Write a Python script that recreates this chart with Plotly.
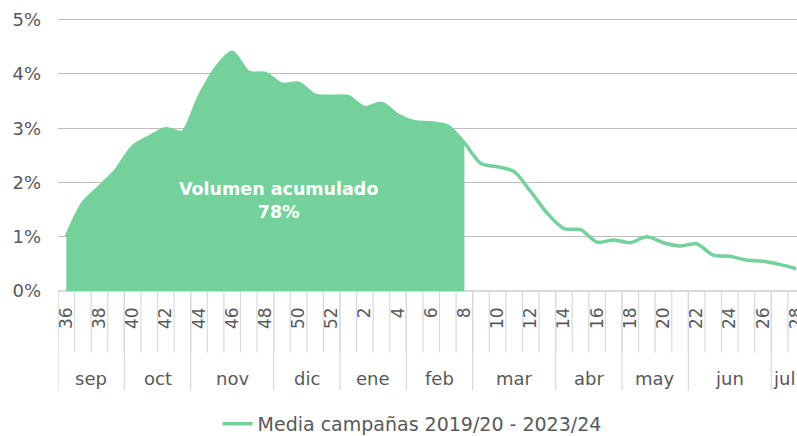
import plotly.graph_objects as go

weeks = list(range(36, 53)) + list(range(1, 29))
values = [1.00, 1.62, 1.92, 2.23, 2.66, 2.84, 2.99, 2.93, 3.58, 4.10, 4.40, 4.03, 4.01,
          3.81, 3.83, 3.61, 3.59, 3.58, 3.38, 3.46, 3.24, 3.12, 3.10, 3.04, 2.73,
          2.35, 2.29, 2.20, 1.83, 1.43, 1.15, 1.13, 0.90, 0.94, 0.89, 1.00, 0.89,
          0.83, 0.87, 0.66, 0.64, 0.57, 0.55, 0.49, 0.41]
months = ["sep", "oct", "nov", "dic", "ene", "feb", "mar", "abr", "may", "jun", "jul"]
weeks_per_month = [4, 4, 5, 4, 4, 4, 5, 4, 4, 5, 2]
y_ticks = [0, 1, 2, 3, 4, 5]
fill_until_week = 8
series_name = "Media campañas 2019/20 - 2023/24"
annotation_text = "<b>Volumen acumulado<br>78%</b>"

GREEN = "#74D19B"
FONT = "DejaVu Sans"
TXT = "#595959"

idx = list(range(len(weeks)))
fill_end = weeks.index(fill_until_week)
x_max = 44.05

fig = go.Figure()
fig.add_trace(go.Scatter(
    x=idx[:fill_end + 1], y=values[:fill_end + 1], mode="lines",
    line=dict(width=0, color=GREEN, shape="spline", smoothing=0.8),
    fill="tozeroy", fillcolor=GREEN, showlegend=False, hoverinfo="skip"))
fig.add_trace(go.Scatter(
    x=idx, y=values, mode="lines", name=series_name,
    line=dict(width=3.5, color=GREEN, shape="spline", smoothing=0.8)))

# category boundary lines
shapes = []
for i in range(len(weeks) + 1):
    shapes.append(dict(type="line", xref="x", yref="paper", x0=i - 0.5, x1=i - 0.5,
                       y0=0, y1=-0.224, line=dict(color="#D9D9D9", width=1.2)))
annotations = []
start = 0
for m, n in zip(months, weeks_per_month):
    shapes.append(dict(type="line", xref="x", yref="paper", x0=start - 0.5, x1=start - 0.5,
                       y0=0, y1=-0.362, line=dict(color="#D9D9D9", width=1.2)))
    center = start - 0.5 + n / 2
    if center + 1.0 > x_max:
        annotations.append(dict(x=1.0, y=-0.318, xref="paper", yref="paper",
                                text=m, showarrow=False, font=dict(family=FONT, size=18, color=TXT),
                                xanchor="right", yanchor="middle"))
    else:
        annotations.append(dict(x=center, y=-0.318, xref="x", yref="paper",
                                text=m, showarrow=False, font=dict(family=FONT, size=18, color=TXT),
                                xanchor="center", yanchor="middle"))
    start += n

annotations.append(dict(x=12.8, y=1.67, xref="x", yref="y", text=annotation_text,
                        showarrow=False, font=dict(family=FONT, size=17.5, color="white"),
                        align="center"))

fig.update_layout(
    width=797, height=436,
    margin=dict(l=58, r=0, t=17, b=145, autoexpand=False),
    plot_bgcolor="white", paper_bgcolor="white",
    shapes=shapes, annotations=annotations,
    showlegend=True,
    legend=dict(orientation="h", xref="container", yref="container", x=0.517, y=0.0275,
                xanchor="center", yanchor="middle",
                font=dict(family=FONT, size=19, color=TXT)),
    xaxis=dict(range=[-0.5, x_max], tickvals=idx[::2], ticktext=[str(w) for w in weeks[::2]],
               tickangle=-90, showgrid=False, zeroline=False, showline=False, ticks="",
               automargin=False, ticklabeloverflow="allow",
               ticklabelstandoff=12, tickfont=dict(family=FONT, size=17, color=TXT)),
    yaxis=dict(range=[0, 5.05], tickvals=y_ticks, ticktext=[f"{v}%" for v in y_ticks],
               showgrid=True, gridcolor="#BFBFBF", gridwidth=1.3, zeroline=True,
               zerolinecolor="#D9D9D9", zerolinewidth=1.5, automargin=False,
               ticks="", ticklabelstandoff=16, tickfont=dict(family=FONT, size=18, color=TXT)),
)

fig.write_html("out.html", config={"displayModeBar": False},
               post_script="document.body.style.margin='0';document.body.style.overflow='hidden';")
